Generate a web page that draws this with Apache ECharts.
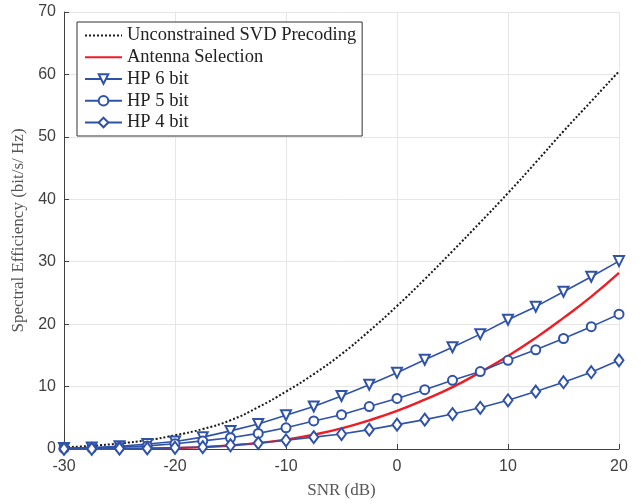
<!DOCTYPE html>
<html lang="en">

<head>
  <meta charset="utf-8">
  <title>Spectral efficiency vs SNR</title>
  <script src="https://cdn.jsdelivr.net/npm/echarts@6/dist/echarts.min.js"></script>
  <style>
    body {
      margin: 0;
      background: white;
      overflow: hidden;
    }

    #chart {
      width: 642px;
      height: 504px;
    }
  </style>
</head>

<body>
  <div id="chart"></div>

  <script>
    // --- Data.

    // SNR points in dB, one every 2.5 dB.
    const SNR = [-30, -27.5, -25, -22.5, -20, -17.5, -15, -12.5, -10, -7.5, -5,
      -2.5, 0, 2.5, 5, 7.5, 10, 12.5, 15, 17.5, 20];

    const SVD = [0.3, 0.5, 0.9, 1.4, 2.2, 3.2, 4.6, 6.7, 9.2, 12.0, 15.2,
      18.9, 22.9, 27.2, 31.7, 36.3, 41.0, 45.9, 50.9, 55.7, 60.5];

    const ANTENNA_SELECTION = [0.01, 0.02, 0.04, 0.08, 0.15, 0.3, 0.55, 0.95, 1.5, 2.3, 3.3,
      4.6, 6.1, 7.9, 9.9, 12.3, 14.9, 17.8, 21.0, 24.4, 28.2];

    const HP6 = [0.15, 0.25, 0.45, 0.8, 1.2, 1.9, 2.9, 4.0, 5.4, 6.8, 8.5,
      10.3, 12.2, 14.3, 16.3, 18.4, 20.7, 22.8, 25.2, 27.6, 30.1];

    const HP5 = [0.1, 0.15, 0.3, 0.5, 0.85, 1.3, 1.8, 2.5, 3.4, 4.5, 5.5,
      6.8, 8.1, 9.5, 11.0, 12.4, 14.2, 15.9, 17.7, 19.6, 21.6];

    const HP4 = [0.02, 0.03, 0.05, 0.1, 0.2, 0.3, 0.6, 0.95, 1.4, 1.9, 2.4,
      3.1, 3.9, 4.7, 5.6, 6.6, 7.8, 9.2, 10.7, 12.3, 14.2];

    const NAMES = ['Unconstrained SVD Precoding', 'Antenna Selection', 'HP 6 bit', 'HP 5 bit', 'HP 4 bit'];

    // --- Styles.

    const BLUE = '#3053a8';
    const RED = '#ee1d24';
    const AXIS_COLOR = '#404040';
    const SERIF = '"Liberation Serif", "DejaVu Serif", serif';
    const SANS = '"Liberation Sans", Arial, sans-serif';

    function pairs(values) {
      return SNR.map((x, i) => [x, values[i]]);
    }

    // Plain line, no markers; the transparent item colour hides the legend dot.
    function plainSeries(name, values, lineStyle) {
      return {
        name: name,
        type: 'line',
        data: pairs(values),
        smooth: true,
        symbol: 'none',
        lineStyle: lineStyle,
        itemStyle: { color: 'rgba(0,0,0,0)', borderWidth: 0 },
        emphasis: { disabled: true },
        z: 2
      };
    }

    function hpSeries(name, values, symbol, extra) {
      return Object.assign({
        name: name,
        type: 'line',
        data: pairs(values),
        symbol: symbol,
        symbolSize: 9,
        showAllSymbol: true,
        lineStyle: { color: BLUE, width: 1.6 },
        itemStyle: { color: BLUE, borderColor: BLUE, borderWidth: 1.6 },
        emphasis: { disabled: true },
        z: 3
      }, extra || {});
    }

    const chart = echarts.init(document.getElementById('chart'), null, { renderer: 'canvas' });

    chart.setOption({
      animation: false,
      backgroundColor: '#fff',
      grid: { left: 64, right: 23, top: 12, bottom: 55, containLabel: false },
      legend: {
        orient: 'vertical',
        left: 77,
        top: 22,
        padding: [4, 6, 4, 7],
        itemWidth: 37,
        itemHeight: 12,
        itemGap: 2.75,
        backgroundColor: '#fff',
        borderColor: '#333',
        borderWidth: 1,
        borderRadius: 0,
        selectedMode: false,
        data: NAMES,
        textStyle: { fontFamily: SERIF, fontSize: 18.5, lineHeight: 17.5, color: '#222' }
      },
      xAxis: {
        type: 'value',
        min: -30,
        max: 20,
        interval: 10,
        name: 'SNR (dB)',
        nameLocation: 'middle',
        nameGap: 33,
        nameTextStyle: { fontFamily: SERIF, fontSize: 17, color: '#555' },
        axisLine: { show: true, onZero: false, lineStyle: { color: AXIS_COLOR, width: 1 } },
        axisTick: { show: true, inside: true, length: 5, lineStyle: { color: AXIS_COLOR } },
        axisLabel: { fontFamily: SANS, fontSize: 16, color: '#404040', margin: 10 },
        splitLine: { show: true, lineStyle: { color: '#e6e6e6', width: 1 } }
      },
      yAxis: {
        type: 'value',
        min: 0,
        max: 70,
        interval: 10,
        name: 'Spectral Efficiency (bit/s/ Hz)',
        nameLocation: 'middle',
        nameGap: 33,
        nameTextStyle: { fontFamily: SERIF, fontSize: 17, color: '#555' },
        axisLine: { show: true, onZero: false, lineStyle: { color: AXIS_COLOR, width: 1 } },
        axisTick: { show: true, inside: true, length: 5, lineStyle: { color: AXIS_COLOR } },
        axisLabel: { fontFamily: SANS, fontSize: 16, color: '#404040', margin: 8 },
        splitLine: { show: true, lineStyle: { color: '#e6e6e6', width: 1 } }
      },
      series: [
        plainSeries(NAMES[0], SVD, { color: '#1a1a1a', width: 2, type: [2, 2] }),
        plainSeries(NAMES[1], ANTENNA_SELECTION, { color: RED, width: 2.4 }),
        hpSeries(NAMES[2], HP6, 'emptyTriangle', { symbolRotate: 180, symbolSize: 10 }),
        hpSeries(NAMES[3], HP5, 'emptyCircle'),
        hpSeries(NAMES[4], HP4, 'emptyDiamond', { symbolSize: [9, 12] })
      ]
    });
  </script>
</body>

</html>
